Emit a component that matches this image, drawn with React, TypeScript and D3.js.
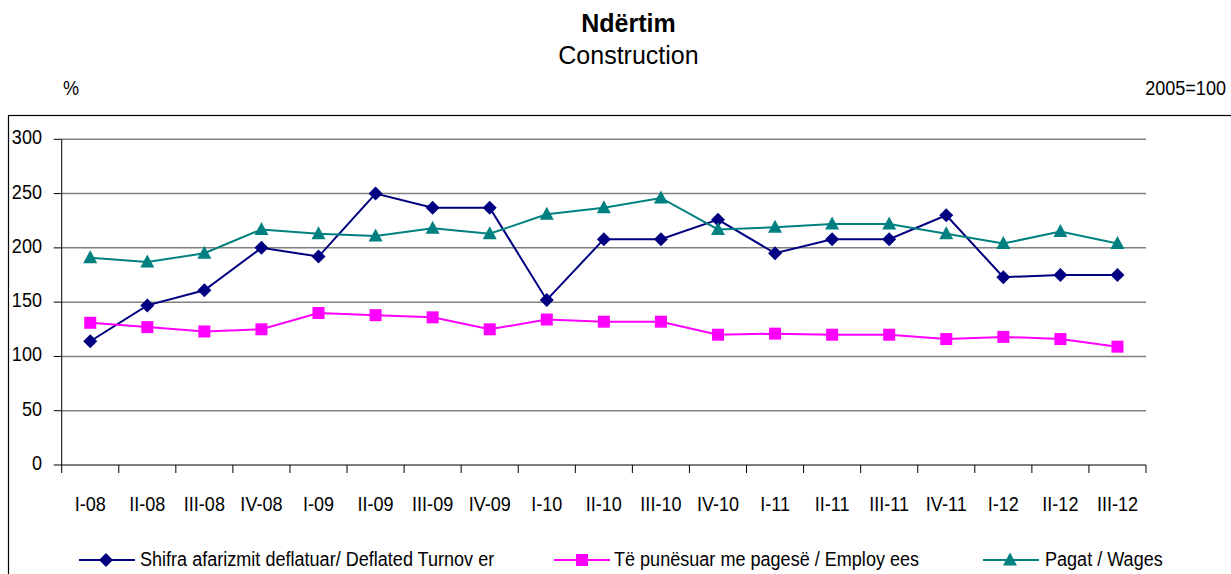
import React from "react";
import * as d3 from "d3";

const categories = ["I-08","II-08","III-08","IV-08","I-09","II-09","III-09","IV-09","I-10","II-10","III-10","IV-10","I-11","II-11","III-11","IV-11","I-12","II-12","III-12"];
const turnover = [114, 147, 161, 200, 192, 250, 237, 237, 152, 208, 208, 226, 195, 208, 208, 230, 173, 175, 175];
const employees = [131, 127, 123, 125, 140, 138, 136, 125, 134, 132, 132, 120, 121, 120, 120, 116, 118, 116, 109];
const wages = [191, 187, 195, 217, 213, 211, 218, 213, 231, 237, 246, 217, 219, 222, 222, 213, 204, 215, 204];
const yTicks = [0, 50, 100, 150, 200, 250, 300];
const seriesNames = [
  "Shifra afarizmit deflatuar/ Deflated Turnov er",
  "Të punësuar me pagesë / Employ ees",
  "Pagat / Wages",
];

const FONT = "'Liberation Sans', Arial, sans-serif";

function Marker({ kind, x, y, color }: { kind: string; x: number; y: number; color: string }) {
  if (kind === "diamond") {
    return <polygon points={`${x},${y - 7} ${x + 7},${y} ${x},${y + 7} ${x - 7},${y}`} fill={color} />;
  }
  if (kind === "square") {
    return <rect x={x - 6} y={y - 6} width={12} height={12} fill={color} />;
  }
  return <polygon points={`${x},${y - 7.5} ${x + 7},${y + 5.5} ${x - 7},${y + 5.5}`} fill={color} />;
}

function T({ x, y, children, anchor = "start", size = 21, sx = 0.86 }: any) {
  return (
    <text
      transform={`translate(${x},${y}) scale(${sx},1)`}
      textAnchor={anchor}
      fontFamily={FONT}
      fontSize={size}
      fill="#000"
    >
      {children}
    </text>
  );
}

export default function App() {
  const W = 1231, H = 574;
  const x = d3.scaleBand<string>().domain(categories).range([61.7, 1146]);
  const y = d3.scaleLinear().domain([0, 300]).range([465, 139.3]);
  const cx = (c: string) => (x(c) as number) + x.bandwidth() / 2;
  const line = d3.line<number>().x((_, i) => cx(categories[i])).y((d) => y(d));

  const series = [
    { name: seriesNames[0], data: turnover, color: "#000080", kind: "diamond" },
    { name: seriesNames[1], data: employees, color: "#FF00FF", kind: "square" },
    { name: seriesNames[2], data: wages, color: "#008080", kind: "triangle" },
  ];
  const legendPos = [
    { x1: 79, x2: 135, mx: 106, tx: 140 },
    { x1: 554, x2: 610, mx: 582, tx: 614 },
    { x1: 983, x2: 1039, mx: 1010, tx: 1045 },
  ];
  const boundaries = [...categories.map((c) => x(c) as number), 1146];

  return (
    <svg width={W} height={H} style={{ position: "absolute", left: 0, top: 0, background: "#fff" }}>
      <rect x={0} y={0} width={W} height={H} fill="#fff" />
      <text x={628.5} y={32} textAnchor="middle" fontFamily={FONT} fontSize={25} fontWeight="bold">Ndërtim</text>
      <text x={628.5} y={64} textAnchor="middle" fontFamily={FONT} fontSize={25}>Construction</text>
      <T x={71} y={95} anchor="middle">%</T>
      <T x={1226} y={95} anchor="end">2005=100</T>

      <rect x={8.5} y={115.5} width={1400} height={600} fill="none" stroke="#000" strokeWidth={1.2} />

      {yTicks.filter((t) => t > 0).map((t) => (
        <line key={t} x1={61.7} x2={1146} y1={y(t)} y2={y(t)} stroke="#808080" strokeWidth={1.5} />
      ))}
      {yTicks.map((t) => (
        <g key={"yt" + t}>
          <line x1={53.7} x2={61.7} y1={y(t)} y2={y(t)} stroke="#000" strokeWidth={1} />
          <T x={42} y={y(t) + 5} anchor="end">{String(t)}</T>
        </g>
      ))}
      <line x1={61.7} x2={61.7} y1={139.3} y2={465} stroke="#000" strokeWidth={1} />
      <line x1={61.7} x2={1146} y1={465} y2={465} stroke="#000" strokeWidth={1.2} />
      {boundaries.map((b, i) => (
        <line key={"xt" + i} x1={b} x2={b} y1={465} y2={473} stroke="#000" strokeWidth={1} />
      ))}
      {categories.map((c) => (
        <T key={c} x={cx(c)} y={511} anchor="middle">{c}</T>
      ))}

      {series.map((s) => (
        <g key={s.name}>
          <path d={line(s.data) as string} fill="none" stroke={s.color} strokeWidth={2} />
          {s.data.map((v, i) => (
            <Marker key={i} kind={s.kind} x={cx(categories[i])} y={y(v)} color={s.color} />
          ))}
        </g>
      ))}

      {series.map((s, i) => {
        const p = legendPos[i];
        return (
          <g key={"lg" + i}>
            <line x1={p.x1} x2={p.x2} y1={560} y2={560} stroke={s.color} strokeWidth={2} />
            <Marker kind={s.kind} x={p.mx} y={560} color={s.color} />
            <T x={p.tx} y={566}>{s.name}</T>
          </g>
        );
      })}
    </svg>
  );
}
